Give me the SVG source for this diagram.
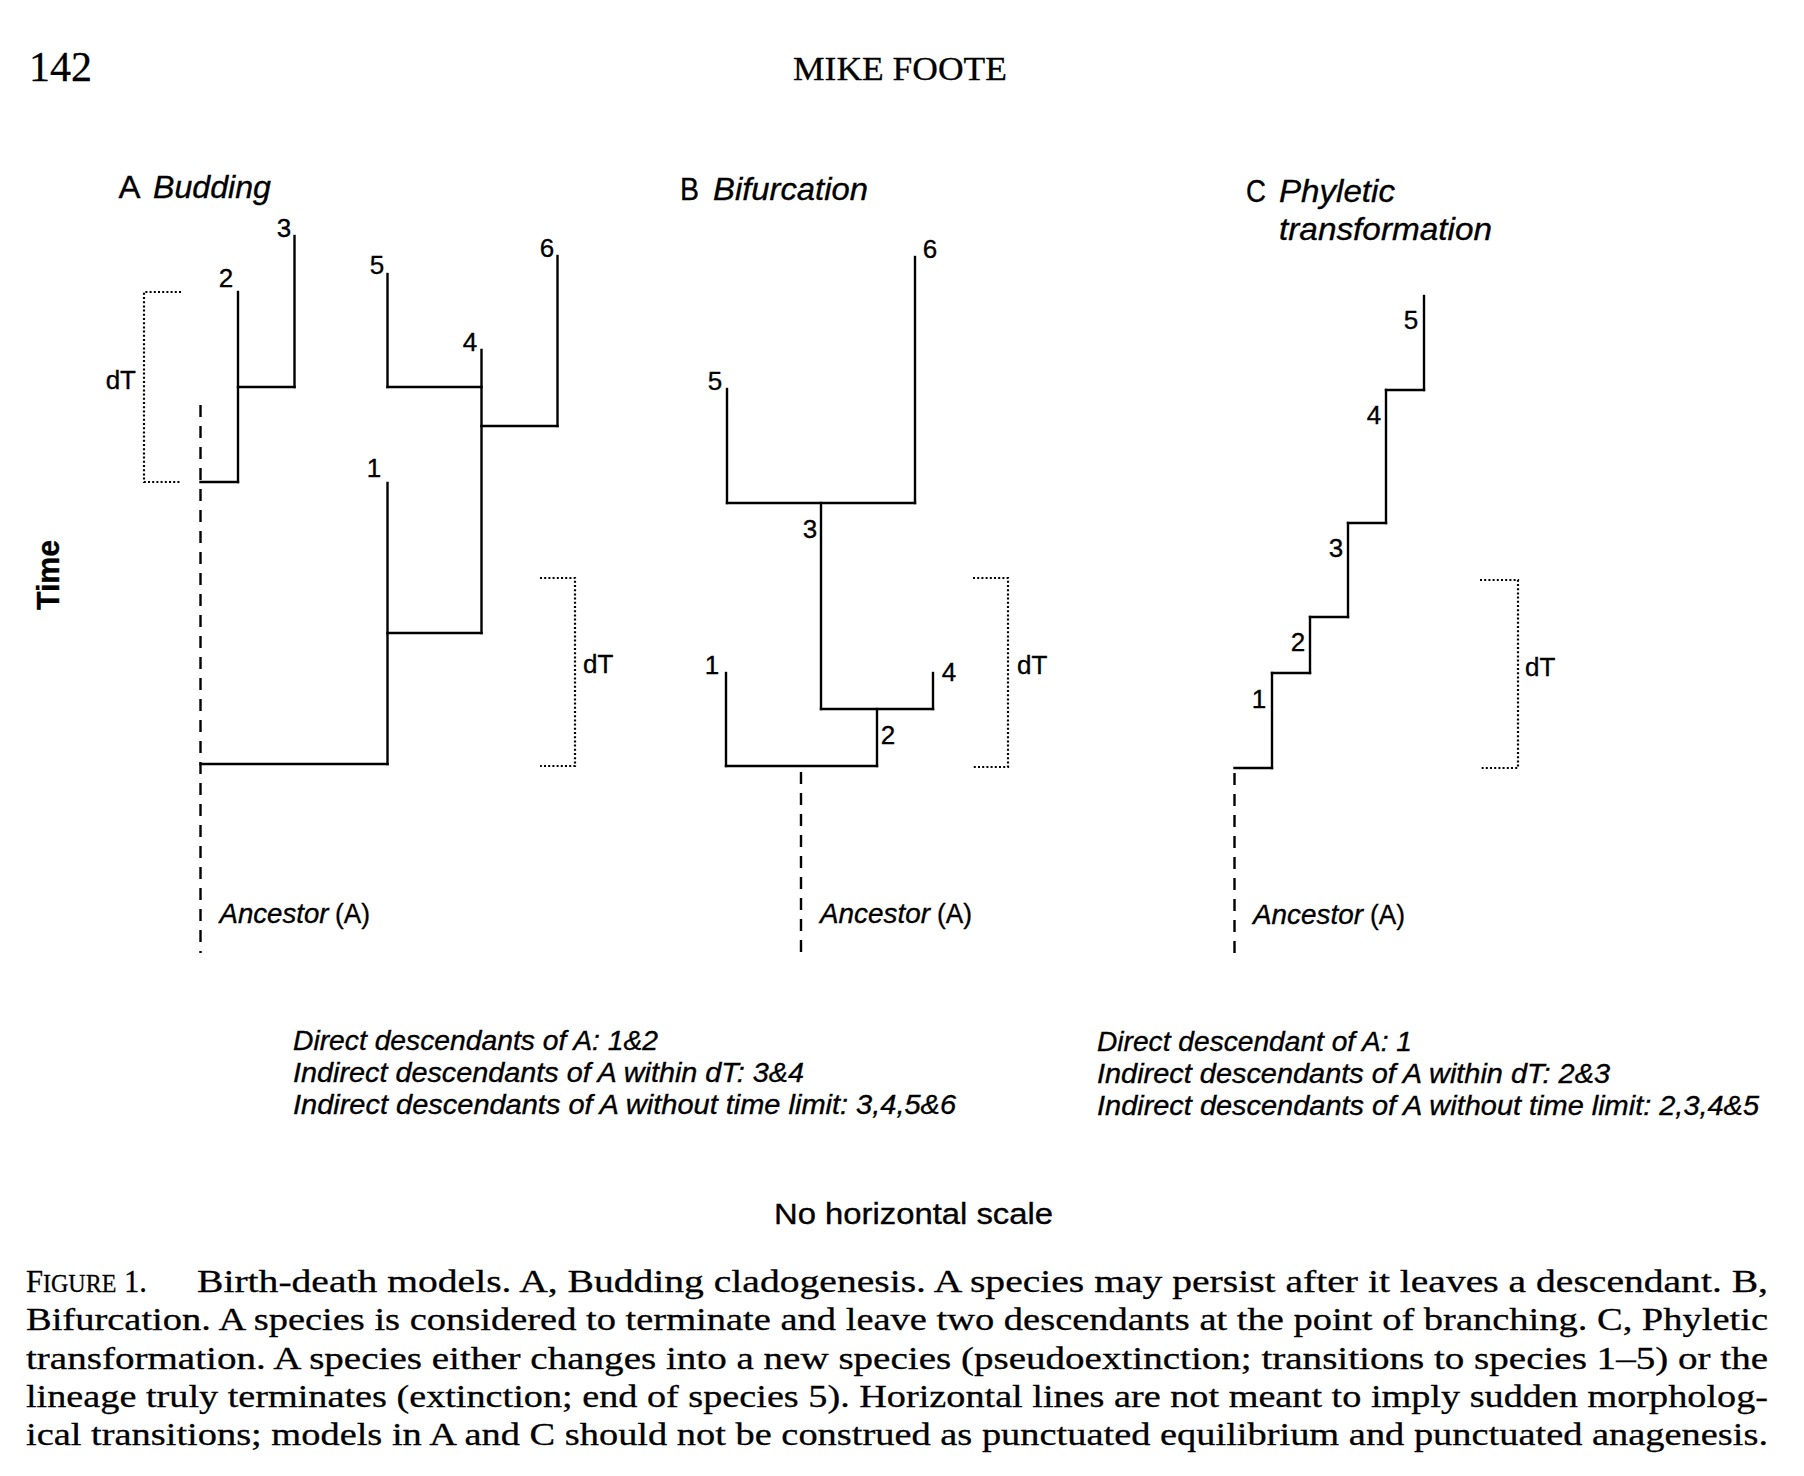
<svg xmlns="http://www.w3.org/2000/svg" width="1804" height="1476" viewBox="0 0 1804 1476">
<style>
.ln{stroke:#000;stroke-width:2.4;fill:none;stroke-linecap:square}
.da{stroke:#000;stroke-width:2.4;fill:none;stroke-dasharray:12 9}
.dt{stroke:#000;stroke-width:2.2;fill:none;stroke-dasharray:2 2.2}
.s{font-family:"Liberation Sans",Arial,sans-serif;fill:#000;stroke:#000;stroke-width:0.35}
.lab{font-size:26px;text-anchor:middle}
.it{font-style:italic}
.ttl{font-size:32px}
.anc{font-size:28px}
.desc{font-size:27px;font-style:italic}
.ser{font-family:"Liberation Serif","Times New Roman",serif;fill:#000;stroke:#000;stroke-width:0.3}
.cap{font-size:32px}
</style>
<rect width="1804" height="1476" fill="#fff"/>

<g id="header">
<text class="ser" x="29" y="81" font-size="42" textLength="63" lengthAdjust="spacingAndGlyphs">142</text>
<text class="ser" x="793" y="80" font-size="33" textLength="214" lengthAdjust="spacingAndGlyphs">MIKE FOOTE</text>
</g>

<g id="time-axis">
<text class="s" font-size="31" font-weight="bold" text-anchor="middle" transform="translate(59,575) rotate(-90)" textLength="70" lengthAdjust="spacingAndGlyphs">Time</text>
</g>

<!-- Panel A -->
<g id="panelA-title">
<text class="s ttl" x="118.5" y="198" textLength="22" lengthAdjust="spacingAndGlyphs">A</text>
<text class="s ttl it" x="153" y="198" textLength="118" lengthAdjust="spacingAndGlyphs">Budding</text>
</g>
<g id="A-ancestor">
<line class="da" x1="200.5" y1="405" x2="200.5" y2="953"/>
<text class="s anc" y="923"><tspan class="it" x="219.5" textLength="109" lengthAdjust="spacingAndGlyphs">Ancestor</tspan><tspan x="335" textLength="35" lengthAdjust="spacingAndGlyphs">(A)</tspan></text>
</g>
<g id="A-sp1"><line class="ln" x1="387.5" y1="483" x2="387.5" y2="764"/><text class="s lab" x="374" y="477">1</text></g>
<g id="A-sp2"><line class="ln" x1="238" y1="292" x2="238" y2="482"/><text class="s lab" x="226" y="287">2</text></g>
<g id="A-sp3"><line class="ln" x1="294.5" y1="236" x2="294.5" y2="387"/><text class="s lab" x="284" y="237">3</text></g>
<g id="A-sp4"><line class="ln" x1="481.5" y1="350" x2="481.5" y2="633"/><text class="s lab" x="470" y="351">4</text></g>
<g id="A-sp5"><line class="ln" x1="387.5" y1="274" x2="387.5" y2="387"/><text class="s lab" x="377" y="274">5</text></g>
<g id="A-sp6"><line class="ln" x1="557.5" y1="256" x2="557.5" y2="426"/><text class="s lab" x="547" y="257">6</text></g>
<g id="A-dT-left"><path class="dt" d="M181,292 H144 V482 H181"/><text class="s" font-size="26" x="136" y="389" text-anchor="end">dT</text></g>
<g id="A-dT-right"><path class="dt" d="M540,578 H575 V766 H540"/><text class="s" font-size="26" x="583" y="673">dT</text></g>

<!-- Panel B -->
<g id="panelB-title">
<text class="s ttl" x="680" y="200" textLength="19" lengthAdjust="spacingAndGlyphs">B</text>
<text class="s ttl it" x="713" y="200" textLength="155" lengthAdjust="spacingAndGlyphs">Bifurcation</text>
</g>
<g id="B-ancestor">
<line class="da" x1="801" y1="772" x2="801" y2="955"/>
<text class="s anc" y="923"><tspan class="it" x="820" textLength="110" lengthAdjust="spacingAndGlyphs">Ancestor</tspan><tspan x="937" textLength="35" lengthAdjust="spacingAndGlyphs">(A)</tspan></text>
</g>
<g id="B-sp1"><line class="ln" x1="726" y1="673" x2="726" y2="766"/><text class="s lab" x="712" y="674">1</text></g>
<g id="B-sp2"><line class="ln" x1="877" y1="709" x2="877" y2="766"/><text class="s lab" x="888" y="744">2</text></g>
<g id="B-sp3"><line class="ln" x1="821" y1="503" x2="821" y2="709"/><text class="s lab" x="810" y="538">3</text></g>
<g id="B-sp4"><line class="ln" x1="933" y1="673" x2="933" y2="709"/><text class="s lab" x="949" y="681">4</text></g>
<g id="B-sp5"><line class="ln" x1="727" y1="389" x2="727" y2="503"/><text class="s lab" x="715" y="390">5</text></g>
<g id="B-sp6"><line class="ln" x1="915" y1="257" x2="915" y2="503"/><text class="s lab" x="930" y="258">6</text></g>
<g id="B-dT"><path class="dt" d="M973,578 H1008 V767 H973"/><text class="s" font-size="26" x="1017" y="674">dT</text></g>

<!-- Panel C -->
<g id="panelC-title">
<text class="s ttl" x="1246" y="202" textLength="20" lengthAdjust="spacingAndGlyphs">C</text>
<text class="s ttl it" x="1279" y="202" textLength="116" lengthAdjust="spacingAndGlyphs">Phyletic</text>
<text class="s ttl it" x="1279" y="240" textLength="213" lengthAdjust="spacingAndGlyphs">transformation</text>
</g>
<g id="C-ancestor">
<line class="da" x1="1234.5" y1="773" x2="1234.5" y2="955"/>
<text class="s anc" y="924"><tspan class="it" x="1253" textLength="110" lengthAdjust="spacingAndGlyphs">Ancestor</tspan><tspan x="1370" textLength="35" lengthAdjust="spacingAndGlyphs">(A)</tspan></text>
</g>
<g id="C-sp1"><line class="ln" x1="1272" y1="673" x2="1272" y2="768"/><text class="s lab" x="1259" y="708">1</text></g>
<g id="C-sp2"><line class="ln" x1="1310" y1="617" x2="1310" y2="673"/><text class="s lab" x="1298" y="651">2</text></g>
<g id="C-sp3"><line class="ln" x1="1348" y1="523" x2="1348" y2="617"/><text class="s lab" x="1336" y="557">3</text></g>
<g id="C-sp4"><line class="ln" x1="1386" y1="390" x2="1386" y2="523"/><text class="s lab" x="1374" y="424">4</text></g>
<g id="C-sp5"><line class="ln" x1="1424" y1="296" x2="1424" y2="390"/><text class="s lab" x="1411" y="329">5</text></g>
<g id="C-dT"><path class="dt" d="M1480,580 H1518 V768 H1480"/><text class="s" font-size="26" x="1525" y="676">dT</text></g>

<g id="connectors">
<line class="ln" x1="200.5" y1="482" x2="238" y2="482"/>
<line class="ln" x1="238" y1="387" x2="294.5" y2="387"/>
<line class="ln" x1="200.5" y1="764" x2="387.5" y2="764"/>
<line class="ln" x1="387.5" y1="633" x2="481.5" y2="633"/>
<line class="ln" x1="387.5" y1="387" x2="481.5" y2="387"/>
<line class="ln" x1="481.5" y1="426" x2="557.5" y2="426"/>
<line class="ln" x1="726" y1="766" x2="877" y2="766"/>
<line class="ln" x1="821" y1="709" x2="933" y2="709"/>
<line class="ln" x1="727" y1="503" x2="915" y2="503"/>
<line class="ln" x1="1234.5" y1="768" x2="1272" y2="768"/>
<line class="ln" x1="1272" y1="673" x2="1310" y2="673"/>
<line class="ln" x1="1310" y1="617" x2="1348" y2="617"/>
<line class="ln" x1="1348" y1="523" x2="1386" y2="523"/>
<line class="ln" x1="1386" y1="390" x2="1424" y2="390"/>
</g>

<g id="desc-left">
<text class="s desc" x="293" y="1050" textLength="365" lengthAdjust="spacingAndGlyphs">Direct descendants of A: 1&amp;2</text>
<text class="s desc" x="293" y="1082" textLength="511" lengthAdjust="spacingAndGlyphs">Indirect descendants of A within dT: 3&amp;4</text>
<text class="s desc" x="293" y="1114" textLength="663" lengthAdjust="spacingAndGlyphs">Indirect descendants of A without time limit: 3,4,5&amp;6</text>
</g>
<g id="desc-right">
<text class="s desc" x="1097" y="1051" textLength="315" lengthAdjust="spacingAndGlyphs">Direct descendant of A: 1</text>
<text class="s desc" x="1097" y="1083" textLength="513" lengthAdjust="spacingAndGlyphs">Indirect descendants of A within dT: 2&amp;3</text>
<text class="s desc" x="1097" y="1115" textLength="662" lengthAdjust="spacingAndGlyphs">Indirect descendants of A without time limit: 2,3,4&amp;5</text>
</g>

<g id="scale-note">
<text class="s" font-size="30" x="774" y="1224" textLength="279" lengthAdjust="spacingAndGlyphs">No horizontal scale</text>
</g>

<g id="caption">
<text class="ser cap" x="26" y="1292" textLength="121" lengthAdjust="spacingAndGlyphs">F<tspan font-size="25">IGURE</tspan> 1.</text>
<text class="ser cap" x="197" y="1292" textLength="1571" lengthAdjust="spacingAndGlyphs">Birth-death models. A, Budding cladogenesis. A species may persist after it leaves a descendant. B,</text>
<text class="ser cap" x="26" y="1330" textLength="1742" lengthAdjust="spacingAndGlyphs">Bifurcation. A species is considered to terminate and leave two descendants at the point of branching. C, Phyletic</text>
<text class="ser cap" x="26" y="1369" textLength="1742" lengthAdjust="spacingAndGlyphs">transformation. A species either changes into a new species (pseudoextinction; transitions to species 1–5) or the</text>
<text class="ser cap" x="26" y="1407" textLength="1742" lengthAdjust="spacingAndGlyphs">lineage truly terminates (extinction; end of species 5). Horizontal lines are not meant to imply sudden morpholog-</text>
<text class="ser cap" x="26" y="1445" textLength="1742" lengthAdjust="spacingAndGlyphs">ical transitions; models in A and C should not be construed as punctuated equilibrium and punctuated anagenesis.</text>
</g>
</svg>
